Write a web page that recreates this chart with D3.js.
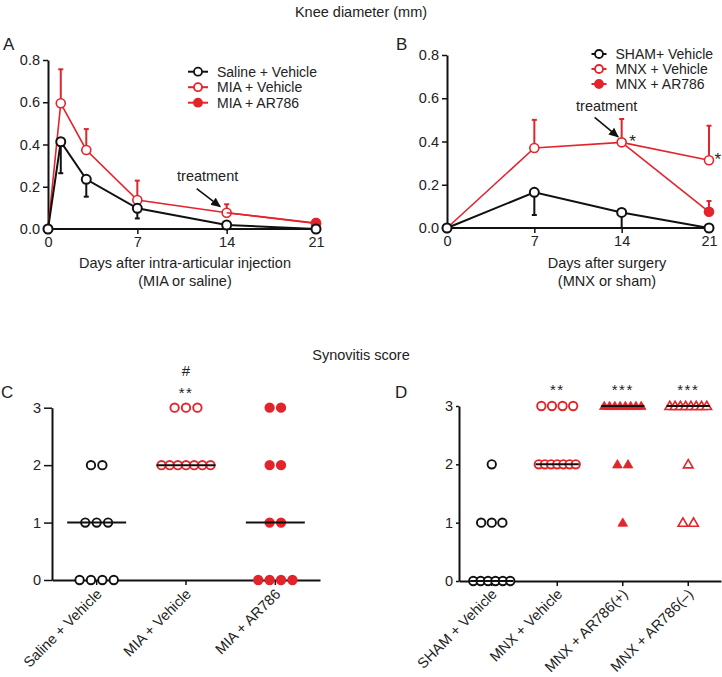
<!DOCTYPE html>
<html><head><meta charset="utf-8">
<script src="https://cdn.jsdelivr.net/npm/d3@7"></script>
<style>
body{margin:0;background:#fff}
svg{display:block}
text{font-family:"Liberation Sans",Arial,Helvetica,sans-serif;fill:#222}
</style></head><body>
<svg id="c" width="722" height="677"></svg>
<script>
// ---------- data ----------
const daysA = [0, 1, 3, 7, 14, 21];
const salineVehicleA = [0, 0.413, 0.235, 0.098, 0.019, 0];
const salineVehicleErrA = [0, 0.149, 0.082, 0.048, 0, 0];
const miaVehicleA = [0, 0.595, 0.374, 0.137, 0.077, 0.026];
const miaVehicleErrA = [0, 0.161, 0.099, 0.092, 0.040, 0.018];
const daysAR786A = [14, 21];
const miaAR786A = [0.077, 0.028];
const miaAR786ErrA = [0, 0.02];
const legendA = ["Saline + Vehicle", "MIA + Vehicle", "MIA + AR786"];

const daysB = [0, 7, 14, 21];
const shamVehicleB = [0, 0.165, 0.072, 0];
const shamVehicleErrB = [0, 0.105, 0.072, 0];
const mnxVehicleB = [0, 0.370, 0.396, 0.313];
const mnxVehicleErrB = [0, 0.130, 0.108, 0.160];
const daysAR786B = [14, 21];
const mnxAR786B = [0.396, 0.075];
const mnxAR786ErrB = [0, 0.05];
const legendB = ["SHAM+ Vehicle", "MNX + Vehicle", "MNX + AR786"];
const starDaysB = [14, 21];

const xTicksLine = [0, 7, 14, 21];
const yTicksLine = [0, 0.2, 0.4, 0.6, 0.8];
const treatmentDay = 14;

const groupsC = ["Saline + Vehicle", "MIA + Vehicle", "MIA + AR786"];
const scoresC = [
  [0, 0, 0, 0, 1, 1, 1, 2, 2],
  [2, 2, 2, 2, 2, 2, 2, 3, 3, 3],
  [0, 0, 0, 0, 1, 1, 2, 2, 3, 3]
];
const sigC = ["", "**", ""];
const hashC = ["", "#", ""];

const groupsD = ["SHAM + Vehicle", "MNX + Vehicle", "MNX + AR786(+)", "MNX + AR786(\u2013)"];
const scoresD = [
  [0, 0, 0, 0, 0, 0, 1, 1, 1, 2],
  [2, 2, 2, 2, 2, 2, 2, 3, 3, 3, 3],
  [1, 2, 2, 3, 3, 3, 3, 3, 3, 3, 3],
  [1, 1, 2, 3, 3, 3, 3, 3, 3, 3, 3]
];
const sigD = ["", "**", "***", "***"];
const yTicksScore = [0, 1, 2, 3];

// ---------- style ----------
const RED = "#e3242b", BLACK = "#111";
const FS = 14;
const svg = d3.select("#c");

svg.append("defs").append("marker")
  .attr("id", "arr").attr("viewBox", "0 0 10 10").attr("refX", 9).attr("refY", 5)
  .attr("markerWidth", 10).attr("markerHeight", 10).attr("markerUnits", "userSpaceOnUse")
  .attr("orient", "auto")
  .append("path").attr("d", "M0,0.5 L10,5 L0,9.5 Z").attr("fill", BLACK);

function txt(x, y, s, opts = {}) {
  return svg.append("text").attr("x", x).attr("y", y)
    .attr("text-anchor", opts.anchor || "middle")
    .attr("font-size", opts.size || FS).text(s);
}

function styleAxis(g, size) {
  g.select(".domain").attr("stroke", BLACK).attr("stroke-width", 2);
  g.selectAll(".tick line").attr("stroke", BLACK).attr("stroke-width", 1.5);
  g.selectAll(".tick text").attr("font-size", size || FS).attr("fill", "#222")
    .attr("font-family", '"Liberation Sans",Arial,sans-serif');
}

// ---------- line panels ----------
function linePanel(o) {
  const x = d3.scaleLinear().domain([0, 21]).range([o.x0, o.x1]);
  const y = d3.scaleLinear().domain([0, 0.8]).range([o.yb, o.yt]);
  const g = svg.append("g");

  const gy = g.append("g").attr("transform", `translate(${o.x0},0)`)
    .call(d3.axisLeft(y).tickValues(yTicksLine).tickFormat(d3.format(".1f")).tickSize(5).tickSizeOuter(0).tickPadding(3));
  styleAxis(gy, 14.5);
  const gx = g.append("g").attr("transform", `translate(0,${o.yb})`)
    .call(d3.axisBottom(x).tickValues(xTicksLine).tickSize(5).tickSizeOuter(0).tickPadding(3));
  styleAxis(gx, 14.5);
  gx.select(".domain").attr("d", `M${o.x0},0H${o.x1 + 4}`);

  const line = d3.line().x(d => x(d[0])).y(d => y(d[1]));
  o.series.forEach(s => {
    const pts = s.days.map((d, i) => [d, s.vals[i], s.err[i]]);
    const sw = s.color === RED ? 1.6 : 2;
    g.append("path").datum(pts).attr("d", line).attr("fill", "none")
      .attr("stroke", s.color).attr("stroke-width", sw);
    pts.filter(p => p[2] > 0).forEach(p => {
      const ye = y(p[1] + s.dir * p[2]);
      g.append("line").attr("x1", x(p[0])).attr("x2", x(p[0])).attr("y1", y(p[1])).attr("y2", ye)
        .attr("stroke", s.color).attr("stroke-width", 2);
      g.append("line").attr("x1", x(p[0]) - 2.5).attr("x2", x(p[0]) + 2.5).attr("y1", ye).attr("y2", ye)
        .attr("stroke", s.color).attr("stroke-width", 2);
    });
    // the treated series starts at the vehicle point: its first marker is not drawn
    const shown = s.skipFirst ? pts.slice(1) : pts;
    g.selectAll(null).data(shown).join("circle")
      .attr("cx", p => x(p[0])).attr("cy", p => y(p[1])).attr("r", 4.5)
      .attr("fill", s.filled ? s.color : "#fff").attr("stroke", s.color).attr("stroke-width", sw);
  });

  // legend
  o.legend.labels.forEach((lab, i) => {
    const s = o.legendSeries[i];
    const cy = o.legend.y + i * o.legend.dy;
    g.append("line").attr("x1", o.legend.x).attr("x2", o.legend.x + o.legend.w).attr("y1", cy).attr("y2", cy)
      .attr("stroke", s.color).attr("stroke-width", 2);
    g.append("circle").attr("cx", o.legend.x + o.legend.w / 2).attr("cy", cy).attr("r", 4)
      .attr("fill", s.filled ? s.color : "#fff").attr("stroke", s.color).attr("stroke-width", 1.8);
    txt(o.legend.x + o.legend.w + 9, cy + 5, lab, { anchor: "start" });
  });

  // treatment arrow
  const tx = x(treatmentDay), ty = y(o.treatVal);
  g.append("line").attr("x1", tx + o.arrow[0]).attr("y1", ty + o.arrow[1])
    .attr("x2", tx + o.arrow[2]).attr("y2", ty + o.arrow[3])
    .attr("stroke", BLACK).attr("stroke-width", 1.6).attr("marker-end", "url(#arr)");
  txt(tx + o.arrow[4], ty + o.arrow[5], "treatment", { size: 14.5 });

  (o.stars || []).forEach((st, i) => txt(x(st[0]) + (i === 0 ? 7.5 : 5.5), y(st[1]) + 5, "*", { anchor: "start", size: 17 }));

  txt(o.titleX, 268, o.title1, { size: 14.5 });
  txt(o.titleX, 286, o.title2, { size: 14.5 });
  txt(o.letterX, 50, o.letter, { anchor: "start", size: 17 });
}

linePanel({
  x0: 48, x1: 316, yb: 229, yt: 60,
  series: [
    { days: daysA, vals: miaVehicleA, err: miaVehicleErrA, dir: 1, color: RED, filled: false },
    { days: daysAR786A, vals: miaAR786A, err: miaAR786ErrA, dir: 1, color: RED, filled: true, skipFirst: true },
    { days: daysA, vals: salineVehicleA, err: salineVehicleErrA, dir: -1, color: BLACK, filled: false }
  ],
  legendSeries: [{ color: BLACK }, { color: RED }, { color: RED, filled: true }],
  legend: { x: 188, y: 71.7, dy: 15.5, w: 20, labels: legendA },
  treatVal: miaVehicleA[4],
  arrow: [-30, -24, -6.5, -6, -19, -32],
  title1: "Days after intra-articular injection", title2: "(MIA or saline)", titleX: 185,
  letter: "A", letterX: 3
});

linePanel({
  x0: 447, x1: 709, yb: 228, yt: 55,
  series: [
    { days: daysAR786B, vals: mnxAR786B, err: mnxAR786ErrB, dir: 1, color: RED, filled: true, skipFirst: true },
    { days: daysB, vals: mnxVehicleB, err: mnxVehicleErrB, dir: 1, color: RED, filled: false },
    { days: daysB, vals: shamVehicleB, err: shamVehicleErrB, dir: -1, color: BLACK, filled: false }
  ],
  legendSeries: [{ color: BLACK }, { color: RED }, { color: RED, filled: true }],
  legend: { x: 591.5, y: 54, dy: 15, w: 15, labels: legendB },
  treatVal: mnxVehicleB[2],
  arrow: [-27, -25, -3.5, -5.5, -15, -31],
  stars: starDaysB.map(d => [d, mnxVehicleB[daysB.indexOf(d)]]),
  title1: "Days after surgery", title2: "(MNX or sham)", titleX: 607,
  letter: "B", letterX: 396
});

txt(361, 17, "Knee diameter (mm)", { size: 14.5 });
txt(361, 360, "Synovitis score", { size: 14.5 });

// ---------- dot panels ----------
function dotPanel(o) {
  const x = d3.scaleBand().domain(o.groups).range([o.x0, o.x1]);
  const y = d3.scaleLinear().domain([0, 3]).range([o.yb, o.yt]);
  const g = svg.append("g");
  const bw = x.bandwidth();

  const gy = g.append("g").attr("transform", `translate(${o.x0},0)`)
    .call(d3.axisLeft(y).tickValues(yTicksScore).tickFormat(d3.format("d")).tickSize(o.ytick).tickSizeOuter(0).tickPadding(3));
  styleAxis(gy, 14.5);
  const gx = g.append("g").attr("transform", `translate(0,${o.yb})`)
    .call(d3.axisBottom(x).tickSize(5).tickSizeOuter(0));
  styleAxis(gx, 14.5);
  gx.selectAll(".tick text")
    .attr("x", 0).attr("y", 0).attr("dy", 0)
    .attr("text-anchor", "end")
    .attr("transform", `translate(${o.lab[0]},${o.lab[1]}) rotate(-45)`);

  o.groups.forEach((grp, gi) => {
    const cx = x(grp) + bw / 2;
    const st = o.styles[gi];
    const counts = d3.rollup(o.scores[gi], v => v.length, d => d);
    counts.forEach((n, score) => {
      const sp = n > 1 ? Math.min(o.sp, o.maxW / (n - 1)) : 0;
      for (let i = 0; i < n; i++) {
        const px = cx + (i - (n - 1) / 2) * sp, py = y(score);
        if (st.shape === "tri") {
          g.append("path").attr("d", d3.symbol(d3.symbolTriangle, 40)())
            .attr("transform", `translate(${px},${py + 0.8})`)
            .attr("fill", st.filled ? st.color : "#fff").attr("stroke", st.color).attr("stroke-width", st.filled ? 0.8 : 1.6);
        } else {
          g.append("circle").attr("cx", px).attr("cy", py).attr("r", o.r)
            .attr("fill", st.filled ? st.color : "#fff").attr("stroke", st.color).attr("stroke-width", 1.9);
        }
      }
    });
    const med = d3.median(o.scores[gi]);
    g.append("line").attr("x1", cx - bw * 0.33).attr("x2", cx + bw * 0.33)
      .attr("y1", y(med)).attr("y2", y(med)).attr("stroke", BLACK).attr("stroke-width", 2);
    if (o.sig[gi]) txt(cx, o.sigY, o.sig[gi], { size: 15 }).attr("letter-spacing", 1.5);
    if (o.hash && o.hash[gi]) txt(cx, o.sigY - 22, o.hash[gi], { size: 15 });
  });
  txt(o.letterX, 398, o.letter, { anchor: "start", size: 17 });
}

dotPanel({
  groups: groupsC, scores: scoresC, x0: 52, x1: 320, yb: 580, yt: 407.7,
  styles: [{ color: BLACK }, { color: RED }, { color: RED, filled: true }],
  sp: 11.4, maxW: 49, r: 4.2, ytick: 8, lab: [6, 15],
  sig: sigC, hash: hashC, sigY: 398, letter: "C", letterX: 1
});

dotPanel({
  groups: groupsD, scores: scoresD, x0: 459, x1: 721, yb: 581, yt: 406,
  styles: [{ color: BLACK }, { color: RED }, { color: RED, filled: true, shape: "tri" }, { color: RED, shape: "tri" }],
  sp: 10.6, maxW: 37, r: 4.2, ytick: 3, lab: [6, 14],
  sig: sigD, sigY: 395, letter: "D", letterX: 395
});
</script>
</body></html>
